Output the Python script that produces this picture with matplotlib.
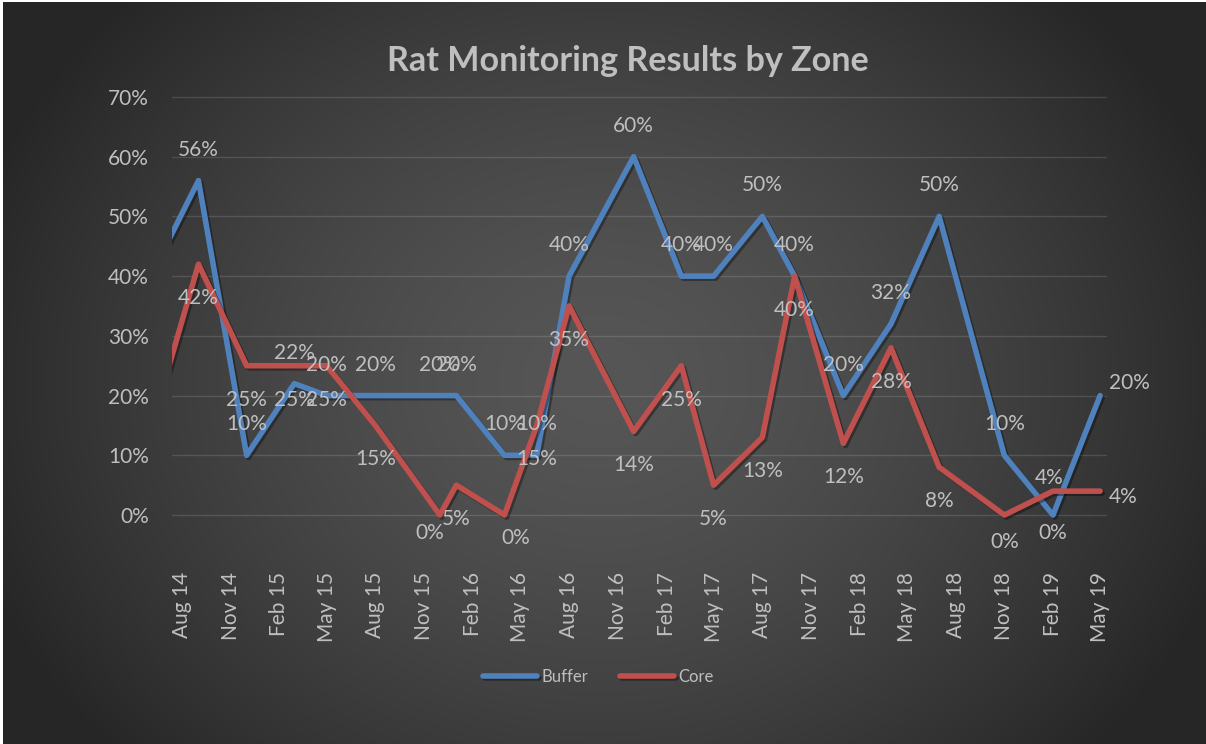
import matplotlib
matplotlib.use("Agg")
import matplotlib.pyplot as plt
import matplotlib.dates as mdates
import matplotlib.patheffects as pe
from matplotlib.ticker import PercentFormatter, FixedLocator
import numpy as np
import pandas as pd

plt.rcParams['font.family'] = ['Lato', 'DejaVu Sans']

# survey dates (the first one lies before the visible axis start)
dates = pd.to_datetime([
    "2014-07-01", "2014-09-01", "2014-12-01", "2015-03-01", "2015-05-01",
    "2015-08-01", "2015-12-01", "2016-01-01", "2016-04-01", "2016-06-01",
    "2016-08-01", "2016-12-01", "2017-03-01", "2017-05-01", "2017-08-01",
    "2017-10-01", "2018-01-01", "2018-04-01", "2018-07-01", "2018-11-01",
    "2019-02-01", "2019-05-01",
])
buffer = [0.45, 0.56, 0.10, 0.22, 0.20, 0.20, 0.20, 0.20, 0.10, 0.10, 0.40,
          0.60, 0.40, 0.40, 0.50, 0.40, 0.20, 0.32, 0.50, 0.10, 0.00, 0.20]
core = [0.23, 0.42, 0.25, 0.25, 0.25, 0.15, 0.00, 0.05, 0.00, 0.15, 0.35,
        0.14, 0.25, 0.05, 0.13, 0.40, 0.12, 0.28, 0.08, 0.00, 0.04, 0.04]

tick_labels = ["Aug 14", "Nov 14", "Feb 15", "May 15", "Aug 15", "Nov 15",
               "Feb 16", "May 16", "Aug 16", "Nov 16", "Feb 17", "May 17",
               "Aug 17", "Nov 17", "Feb 18", "May 18", "Aug 18", "Nov 18",
               "Feb 19", "May 19"]
tick_dates = pd.to_datetime(tick_labels, format="%b %y")

x_start = pd.Timestamp("2014-07-13")
x_end = pd.Timestamp("2019-05-14")

BLUE = "#4f81bd"
RED = "#c0504d"
TXT = "#bfbfbf"

# label placement (pixel offsets, y up), defaults plus a few hand-moved ones
buf_off = {20: (0, -18, "center"), 21: (9, 13, "left")}
core_off = {6: (-10, -18, "center"), 8: (11, -23, "center"), 19: (0, -27, "center"),
            20: (-4, 13, "center"), 21: (9, -6, "left")}

fig = plt.figure(figsize=(12.06, 7.44), dpi=100, facecolor="white")

# radial gradient background
h, w = 744, 1206
yy, xx = np.mgrid[0:h, 0:w]
r = np.sqrt(((xx - 600) / (w * 0.55)) ** 2 + ((yy - 380) / (h * 0.75)) ** 2)
r = np.clip(r, 0, 1)
val = (38 + (86 - 38) * (1 - r ** 1.5)) / 255.0
grad = np.dstack([val, val, val])
bg = fig.add_axes([3 / 1206, 0, 1 - 3 / 1206, 1 - 2 / 744])
bg.imshow(grad, extent=[0, 1, 0, 1], aspect="auto", interpolation="bilinear")
bg.axis("off")

ax = fig.add_axes([172 / 1206, (744 - 521) / 744, (1107 - 172) / 1206, (521 - 91) / 744])
ax.set_facecolor("none")
ax.set_zorder(2)

shadow = [pe.SimpleLineShadow(offset=(1.5, -1.5), alpha=0.35, shadow_color="black"), pe.Normal()]
ax.plot(dates, buffer, color=BLUE, lw=4, label="Buffer", solid_joinstyle="round",
        solid_capstyle="round", path_effects=shadow, zorder=3)
ax.plot(dates, core, color=RED, lw=4, label="Core", solid_joinstyle="round",
        solid_capstyle="round", path_effects=shadow, zorder=3)

for vals, offs, default in [(buffer, buf_off, (0, 31)), (core, core_off, (0, -34))]:
    for i, (d, v) in enumerate(zip(dates, vals)):
        if d < x_start:
            continue
        dx, dy, ha = offs.get(i, (default[0], default[1], "center"))
        ax.annotate(f"{v:.0%}", (d, v), xytext=(dx, dy), textcoords="offset pixels",
                    ha=ha, va="center", fontsize=15, color=TXT, zorder=4,
                    annotation_clip=False)

ax.set_xlim(x_start, x_end)
ax.set_ylim(-0.01, 0.71)
ax.yaxis.set_major_locator(FixedLocator(np.arange(0, 0.71, 0.1)))
ax.yaxis.set_major_formatter(PercentFormatter(1.0, decimals=0))
ax.set_xticks(tick_dates)
ax.set_xticklabels(tick_labels, rotation=90)
ax.tick_params(axis="x", length=0, pad=36.7, labelsize=15, labelcolor=TXT)
ax.tick_params(axis="y", length=0, pad=16.5, labelsize=15, labelcolor=TXT)
for lbl in ax.get_xticklabels():
    lbl.set_va("top")
ax.grid(axis="y", color="white", alpha=0.13, lw=1)
ax.grid(axis="x", visible=False)
for s in ax.spines.values():
    s.set_visible(False)

fig.text(628 / 1206, 1 - 61 / 744, "Rat Monitoring Results by Zone", ha="center", va="center",
         fontsize=24.6, fontweight="bold", color=TXT)

fig.legend(loc="center", bbox_to_anchor=(598 / 1206, 1 - 677 / 744), ncol=2, frameon=False,
           fontsize=12, labelcolor=TXT, handlelength=3.25, handletextpad=0.25,
           columnspacing=1.9)

fig.savefig("out.png", dpi=100, facecolor=fig.get_facecolor())
